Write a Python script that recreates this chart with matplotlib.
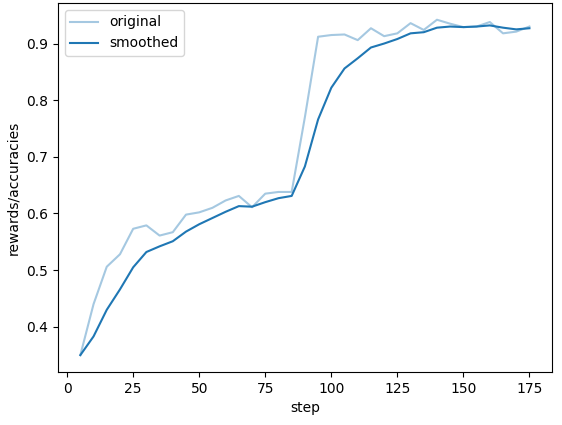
import numpy as np
import matplotlib
matplotlib.use("Agg")
import matplotlib.pyplot as plt

# values
steps = np.arange(5, 180, 5)
original = [0.350, 0.440, 0.506, 0.528, 0.573, 0.579, 0.561, 0.567, 0.598, 0.602,
            0.610, 0.623, 0.631, 0.611, 0.635, 0.638, 0.638, 0.770, 0.912, 0.915,
            0.916, 0.906, 0.927, 0.913, 0.918, 0.936, 0.924, 0.942, 0.935, 0.929,
            0.930, 0.938, 0.918, 0.921, 0.930]
smoothed = [0.350, 0.383, 0.430, 0.466, 0.505, 0.532, 0.542, 0.551, 0.568, 0.581,
            0.592, 0.603, 0.613, 0.612, 0.620, 0.627, 0.631, 0.683, 0.766, 0.822,
            0.856, 0.874, 0.893, 0.900, 0.908, 0.918, 0.920, 0.928, 0.930, 0.929,
            0.930, 0.932, 0.928, 0.925, 0.927]

fig, ax = plt.subplots(figsize=(5.62, 4.25), dpi=100)
fig.subplots_adjust(left=0.103, right=0.982, top=0.993, bottom=0.125)

ax.plot(steps, original, color='tab:blue', alpha=0.4, label='original')
ax.plot(steps, smoothed, color='tab:blue', label='smoothed')
ax.set_xlabel('step')
ax.set_ylabel('rewards/accuracies')
ax.legend(loc='upper left')

fig.savefig('out.png')
